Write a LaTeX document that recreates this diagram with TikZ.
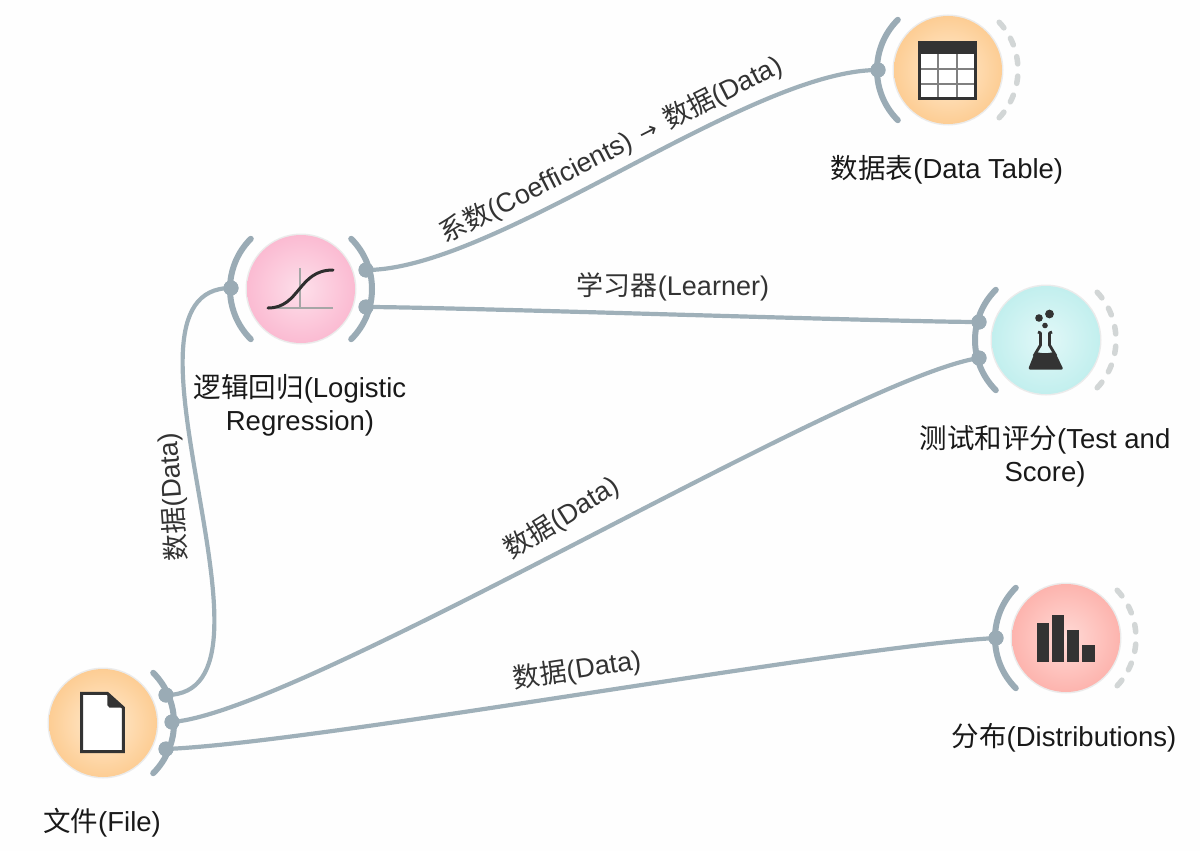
\documentclass[tikz,border=0pt]{standalone}
\usepackage{fontspec}
\setmainfont{Liberation Sans}
\newfontfamily\cjk{Noto Sans CJK SC}
\newfontfamily\arr{DejaVu Sans}
\definecolor{linkc}{HTML}{9FB0B9}
\definecolor{chan}{HTML}{9AABB5}
\definecolor{dashc}{HTML}{D2D6D6}
\definecolor{icon}{HTML}{333333}
\definecolor{bgc}{HTML}{FEFEFE}
\definecolor{orin}{HTML}{FFEBD0}
\definecolor{orout}{HTML}{FDCD94}
\definecolor{pkin}{HTML}{FDDFEA}
\definecolor{pkout}{HTML}{FBBBD2}
\definecolor{cyin}{HTML}{E2F8F8}
\definecolor{cyout}{HTML}{C2EFEE}
\definecolor{rdin}{HTML}{FFDAD6}
\definecolor{rdout}{HTML}{FDB4AE}
\tikzset{
  link/.style={draw=linkc,line width=4.2pt},
  chanarc/.style={draw=chan,line width=6pt,line cap=round},
  dasharc/.style={draw=dashc,line width=5.5pt,line cap=round},
  dot/.style={circle,fill=chan,inner sep=0pt,minimum size=15pt},
  lbl/.style={font=\fontsize{27.5}{33}\selectfont,align=center,text=black!90,inner sep=0pt},
  edgelbl/.style={font=\fontsize{27}{30}\selectfont,text=black!80,inner sep=0pt},
}
% name, x, y, inner colour, outer colour
\newcommand{\widgetdisc}[5]{%
  \fill[black!8] (#2,#3) circle (55.5);
  \node[circle,minimum size=108pt,inner sep=0pt,inner color=#4,outer color=#5] (#1) at (#2,#3) {};
}
\newcommand{\leftarc}[2]{\draw[chanarc] (#1,#2) ++(135:71) arc[start angle=135,end angle=225,radius=71];}
\newcommand{\rightarc}[2]{\draw[chanarc] (#1,#2) ++(45:71) arc[start angle=45,end angle=-45,radius=71];}
\newcommand{\dashedarc}[2]{%
  \foreach \a in {-40,-24,-8,8,24,40}{
    \draw[dasharc] (#1,#2) ++(\a-3:70) arc[start angle=\a-3,end angle=\a+3,radius=70];
  }}
\begin{document}
\begin{tikzpicture}[x=1pt,y=-1pt]
\path[use as bounding box,fill=bgc] (0,0) rectangle (1200,851);

% widgets
\widgetdisc{file}{103}{723}{orin}{orout}
\widgetdisc{logreg}{301}{289}{pkin}{pkout}
\widgetdisc{table}{948}{70}{orin}{orout}
\widgetdisc{score}{1046}{340}{cyin}{cyout}
\widgetdisc{dist}{1066}{638}{rdin}{rdout}

% channel anchors
\node[dot] (fileA) at (166,695) {};
\node[dot] (fileB) at (172,722) {};
\node[dot] (fileC) at (166,749) {};
\node[dot] (lrIn) at (231,288) {};
\node[dot] (lrA) at (366,270) {};
\node[dot] (lrB) at (366,307) {};
\node[dot] (tblIn) at (878,70) {};
\node[dot] (scA) at (979,322) {};
\node[dot] (scB) at (979,358) {};
\node[dot] (dsIn) at (996,638) {};

% links
\draw[link] (fileA.center) .. controls +(135,0) and +(-135,0) .. (lrIn.center);
\draw[link] (lrA.center) .. controls +(130,0) and +(-130,0) .. (tblIn.center);
\draw[link] (lrB.center) .. controls +(80,0) and +(-80,0) .. (scA.center);
\draw[link] (fileB.center) .. controls +(130,-10) and +(-130,20) .. (scB.center);
\draw[link] (fileC.center) .. controls +(150,-6) and +(-150,8) .. (dsIn.center);

% channel arcs
\rightarc{103}{723}
\leftarc{301}{289}
\rightarc{301}{289}
\leftarc{948}{70}
\dashedarc{948}{70}
\leftarc{1046}{340}
\dashedarc{1046}{340}
\leftarc{1066}{638}
\dashedarc{1066}{638}

% re-draw anchors on top of arcs
\foreach \n in {fileA,fileB,fileC,lrIn,lrA,lrB,tblIn,scA,scB,dsIn}{\fill[chan] (\n) circle (7.5);}

% file icon
\draw[icon,line width=3pt,fill=white,line join=miter] (81.7,693.3) -- (107.3,693.3) -- (123.3,707.7) -- (123.3,751.7) -- (81.7,751.7) -- cycle;
\fill[icon] (107.3,693.3) -- (123.3,707.7) -- (109.5,707.7) -- (107.3,705) -- cycle;

% logistic icon
\draw[black!35,line width=2.5pt] (300,268) -- (300,308);
\draw[black!35,line width=2.5pt] (268,308) -- (333,308);
\draw[icon!90!black,line width=3pt,line cap=round] (268,308) .. controls (300,308) and (298,270) .. (333,270);

% table icon
\fill[white] (918,41) rectangle (977,100);
\foreach \x in {938,957}{\draw[black!50,line width=1.6pt] (\x,54) -- (\x,98);}
\foreach \y in {69,84}{\draw[black!50,line width=1.6pt] (919,\y) -- (976,\y);}
\fill[icon] (918,41) rectangle (977,54);
\draw[icon,line width=3pt] (919.5,42.5) rectangle (975.5,98.5);

% flask icon
\fill[icon] (1039,318) circle (3.8) (1049.5,314) circle (4.4) (1045,325.5) circle (2.8);
\draw[icon,line width=2.8pt,line join=round] (1038,332) -- (1040.5,333) -- (1040.5,345) -- (1034,356) (1052,332) -- (1049.5,333) -- (1049.5,345) -- (1056,356);
\fill[icon,rounded corners=2pt] (1035,352) -- (1045,353.5) -- (1055,352) -- (1063.5,369.5) -- (1028,369.5) -- cycle;

% histogram icon
\fill[icon] (1036.7,623.3) rectangle (1049.3,661.7);
\fill[icon] (1052,615) rectangle (1064.3,661.7);
\fill[icon] (1066.7,630) rectangle (1079.3,661.7);
\fill[icon] (1081.7,645) rectangle (1094.7,661.7);

% widget labels
\node[lbl] (lblFile) at (102,823) {{\cjk 文件}(File)};
\node[lbl] (lblLR) at (300,405) {{\cjk 逻辑回归}(Logistic\\Regression)};
\node[lbl] (lblTbl) at (947,170) {{\cjk 数据表}(Data Table)};
\node[lbl] (lblSc) at (1045,456) {{\cjk 测试和评分}(Test and\\Score)};
\node[lbl] (lblDs) at (1064,738) {{\cjk 分布}(Distributions)};

% link labels
\node[edgelbl,rotate=27] (e1) at (611,150) {{\cjk 系数}(Coefficients)\hspace{10pt}{\arr\fontsize{22}{30}\selectfont →}\hspace{10pt}{\cjk 数据}(Data)};
\node[edgelbl] (e2) at (673,287) {{\cjk 学习器}(Learner)};
\node[edgelbl,rotate=94] (e3) at (173,497) {{\cjk 数据}(Data)};
\node[edgelbl,rotate=32] (e4) at (562,518) {{\cjk 数据}(Data)};
\node[edgelbl,rotate=8.5] (e5) at (577,670) {{\cjk 数据}(Data)};
\end{tikzpicture}
\end{document}
